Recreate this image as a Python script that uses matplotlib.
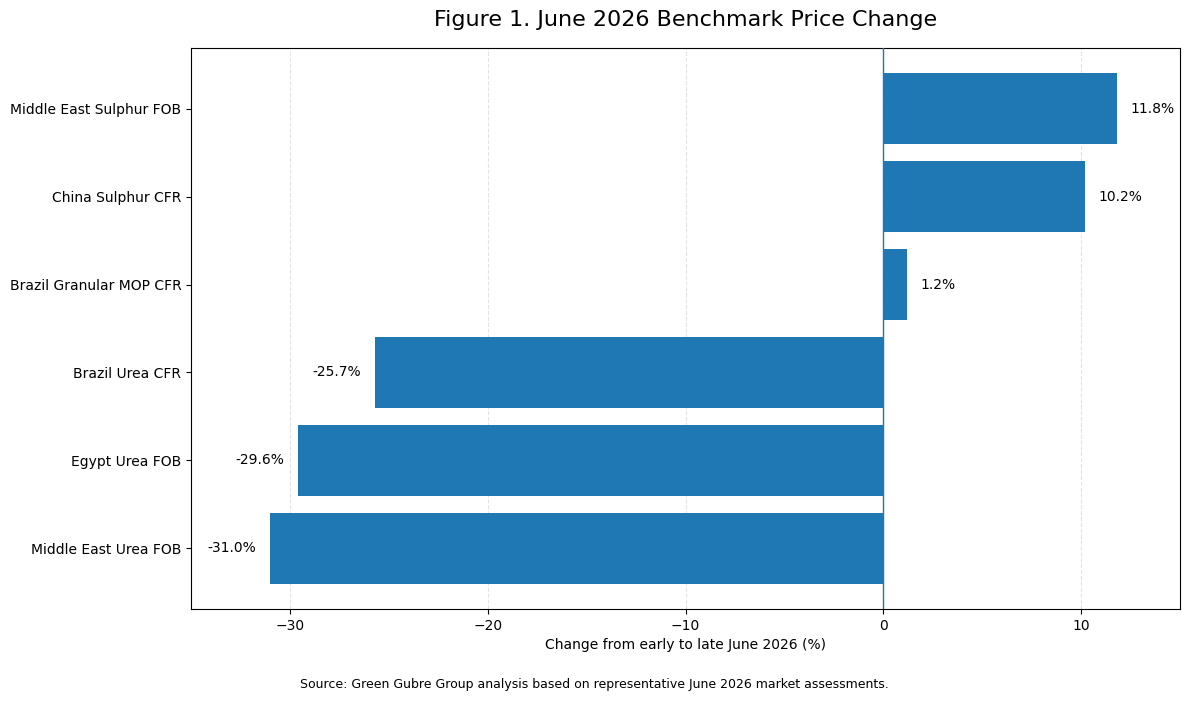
import matplotlib
matplotlib.use("Agg")
import matplotlib.pyplot as plt

categories = ["Middle East Urea FOB", "Egypt Urea FOB", "Brazil Urea CFR",
              "Brazil Granular MOP CFR", "China Sulphur CFR", "Middle East Sulphur FOB"]
changes = [-31.0, -29.6, -25.7, 1.2, 10.2, 11.8]

fig = plt.figure(figsize=(11.89, 7.01), dpi=100)
ax = fig.add_axes([191/1189, 1-609/701, (1180-191)/1189, (609-48)/701])

ax.barh(categories, changes, height=0.8, color="#1f77b4", zorder=2)
ax.axvline(0, color="#1f77b4", linewidth=1, zorder=3)
ax.set_xlim(-35, 15)
ax.grid(axis="x", linestyle="--", alpha=0.35, zorder=0)
ax.set_axisbelow(True)

for i, v in enumerate(changes):
    if v >= 0:
        ax.text(v + 0.7, i, f"{v:.1f}%", va="center", ha="left", fontsize=10)
    else:
        ax.text(v - 0.7, i, f"{v:.1f}%", va="center", ha="right", fontsize=10)

ax.set_xlabel("Change from early to late June 2026 (%)", fontsize=10)
ax.set_title("Figure 1. June 2026 Benchmark Price Change", fontsize=16, pad=15.5)
fig.text(0.5, 0.024, "Source: Green Gubre Group analysis based on representative June 2026 market assessments.",
         ha="center", va="center", fontsize=9)

fig.savefig("out.png", dpi=100)
